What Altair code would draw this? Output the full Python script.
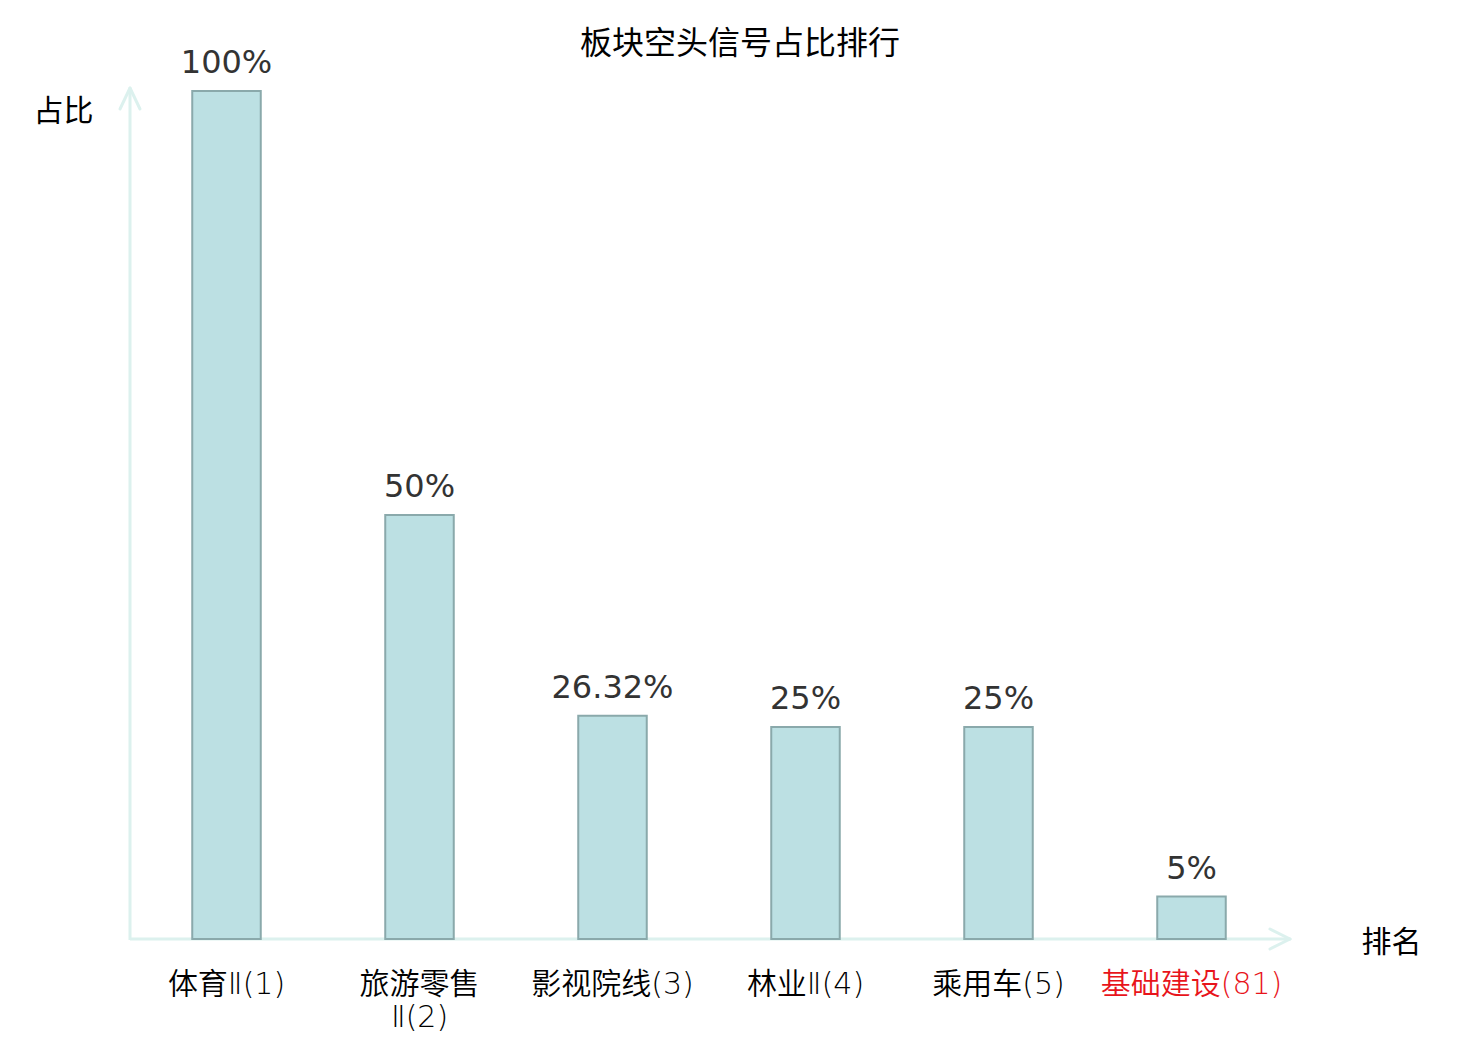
import altair as alt
import pandas as pd

categories = ["体育Ⅱ(1)", "旅游零售\nⅡ(2)", "影视院线(3)", "林业Ⅱ(4)", "乘用车(5)", "基础建设(81)"]
values = [100, 50, 26.32, 25, 25, 5]
value_labels = ["100%", "50%", "26.32%", "25%", "25%", "5%"]
highlight = "基础建设(81)"

df = pd.DataFrame({"cat": categories, "val": values, "lbl": value_labels})

W, H = 1158, 848
AXIS_COLOR = "#dcf1ee"
CJK = "Noto Sans CJK SC"
LABEL_FONT = "DejaVu Sans, Noto Sans CJK SC"

x_enc = alt.X(
    "cat:N",
    sort=categories,
    scale=alt.Scale(paddingInner=0.645, paddingOuter=0.3225),
    axis=alt.Axis(
        title="排名",
        titleFont=CJK,
        titleFontSize=30,
        titleFontWeight="normal",
        titleColor="#000",
        titleAngle=0,
        titleAlign="center",
        titleBaseline="middle",
        titleX=1261,
        titleY=3,
        labelAngle=0,
        labelFont=LABEL_FONT,
        labelFontSize=30,
        labelFontWeight={"expr": "350"},
        labelColor={"expr": f"datum.value == '{highlight}' ? '#e8141b' : '#000'"},
        labelExpr="split(datum.label, '\\n')",
        labelBaseline="top",
        labelPadding=30,
        labelLineHeight=33,
        labelLimit=300,
        ticks=False,
        domain=False,
        grid=False,
    ),
)

y_enc = alt.Y(
    "val:Q",
    scale=alt.Scale(domain=[0, 100], nice=False),
    axis=alt.Axis(
        title="占比",
        titleFont=CJK,
        titleFontSize=30,
        titleFontWeight="normal",
        titleColor="#000",
        titleAngle=0,
        titleAlign="center",
        titleBaseline="middle",
        titleX=-67,
        titleY=20,
        labels=False,
        ticks=False,
        domain=False,
        grid=False,
    ),
)

base = alt.Chart(df)

bars = base.mark_bar(
    fill="#bce0e3", stroke="#8aa9ab", strokeWidth=2
).encode(x=x_enc, y=y_enc)

texts = base.mark_text(
    font="DejaVu Sans", fontSize=32, color="#333", baseline="alphabetic", dy=-18
).encode(x=alt.X("cat:N", sort=categories), y="val:Q", text="lbl:N")

one = pd.DataFrame({"a": [0]})
rule = dict(color=AXIS_COLOR, strokeWidth=3, strokeCap="round")

yline = alt.Chart(one).mark_rule(color=AXIS_COLOR, strokeWidth=3).encode(
    x=alt.value(0), y=alt.value(H + 1), y2=alt.value(-3)
)
xline = alt.Chart(one).mark_rule(color=AXIS_COLOR, strokeWidth=3).encode(
    x=alt.value(0), x2=alt.value(1160), y=alt.value(H)
)
yarrow1 = alt.Chart(one).mark_rule(**rule).encode(
    x=alt.value(0), x2=alt.value(-10), y=alt.value(-3), y2=alt.value(18)
)
yarrow2 = alt.Chart(one).mark_rule(**rule).encode(
    x=alt.value(0), x2=alt.value(10), y=alt.value(-3), y2=alt.value(18)
)
xarrow1 = alt.Chart(one).mark_rule(**rule).encode(
    x=alt.value(1160), x2=alt.value(1140), y=alt.value(H), y2=alt.value(H - 10)
)
xarrow2 = alt.Chart(one).mark_rule(**rule).encode(
    x=alt.value(1160), x2=alt.value(1140), y=alt.value(H), y2=alt.value(H + 10)
)

chart = alt.layer(
    yline, xline, yarrow1, yarrow2, xarrow1, xarrow2, bars, texts
).properties(
    width=W,
    height=H,
    autosize=alt.AutoSizeParams(type="none"),
    padding={"left": 122, "top": 83, "right": 180, "bottom": 100},
    title=alt.TitleParams(
        "板块空头信号占比排行",
        font=CJK,
        fontSize=32,
        fontWeight="normal",
        color="#000",
        anchor="middle",
        frame="group",
        dx=31,
        offset=0,
        dy=14,
    ),
).configure(background="white", view=alt.ViewConfig(stroke="transparent"))

chart.save("out.html", embed_options={"renderer": "svg", "actions": False})
